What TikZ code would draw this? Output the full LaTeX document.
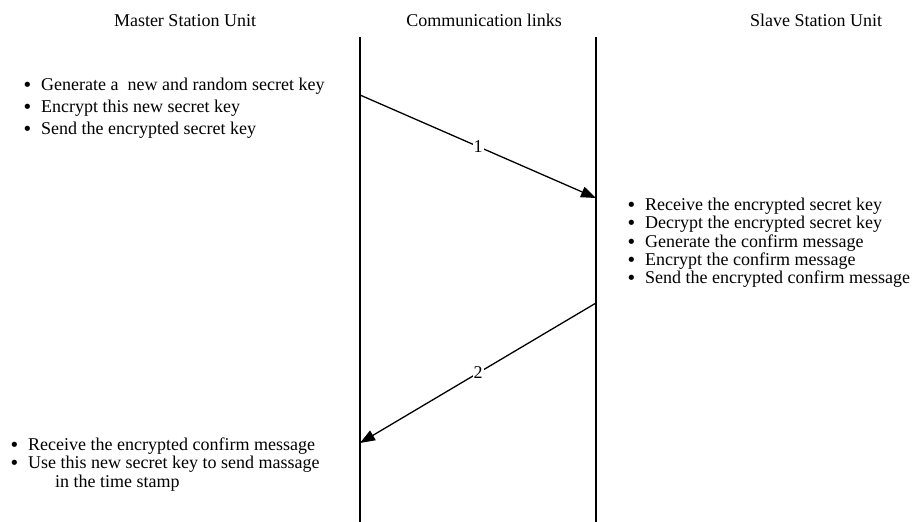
\documentclass[tikz,border=0pt]{standalone}
\usepackage{fontspec}
\setmainfont{Liberation Serif}
\newfontfamily\bulfont{DejaVu Sans}
\usetikzlibrary{arrows.meta}
\tikzset{
  txt/.style={anchor=base west, inner sep=0pt, font=\fontsize{18}{20}\selectfont},
  ttl/.style={anchor=base, inner sep=0pt, font=\fontsize{18}{20}\selectfont},
  lifeline/.style={line width=1.5pt},
  msg/.style={line width=1.3pt, -{Triangle[length=15pt,width=11pt]}},
  msglabel/.style={midway, fill=white, inner sep=1pt, font=\fontsize{18}{20}\selectfont}
}
\newcommand{\bul}{\makebox[19pt][l]{\raisebox{-1.5pt}{\bulfont •}}}
\begin{document}
\begin{tikzpicture}[x=1pt,y=-1pt]
\useasboundingbox (0,0) rectangle (916,522);
% titles
\node[ttl] (tm) at (185,27) {Master Station Unit};
\node[ttl] (tc) at (484,27) {Communication links};
\node[ttl] (ts) at (816,27) {Slave Station Unit};
% lifelines
\coordinate (mtop) at (360,37);
\coordinate (mbot) at (360,522);
\coordinate (stop) at (596,37);
\coordinate (sbot) at (596,522);
\draw[lifeline] (mtop) -- (mbot);
\draw[lifeline] (stop) -- (sbot);
% master list
\node[txt] (m1) at (22,90) {\bul Generate a \ new and random secret key};
\node[txt] (m2) at (22,112) {\bul Encrypt this new secret key};
\node[txt] (m3) at (22,134) {\bul Send the encrypted secret key};
% slave list
\node[txt] (s1) at (626,210) {\bul Receive the encrypted secret key};
\node[txt] (s2) at (626,228) {\bul Decrypt the encrypted secret key};
\node[txt] (s3) at (626,247) {\bul Generate the confirm message};
\node[txt] (s4) at (626,265) {\bul Encrypt the confirm message};
\node[txt] (s5) at (626,283) {\bul Send the encrypted confirm message};
% master final list
\node[txt] (f1) at (9,450) {\bul Receive the encrypted confirm message};
\node[txt] (f2) at (9,468) {\bul Use this new secret key to send massage};
\node[txt] (f3) at (55,487) {in the time stamp};
% messages
\coordinate (a1s) at (360,95);
\coordinate (a1e) at (596,198);
\coordinate (a2s) at (596,303);
\coordinate (a2e) at (360,443);
\draw[msg] (a1s) -- node[msglabel] (l1) {1} (a1e);
\draw[msg] (a2s) -- node[msglabel] (l2) {2} (a2e);
\end{tikzpicture}
\end{document}
